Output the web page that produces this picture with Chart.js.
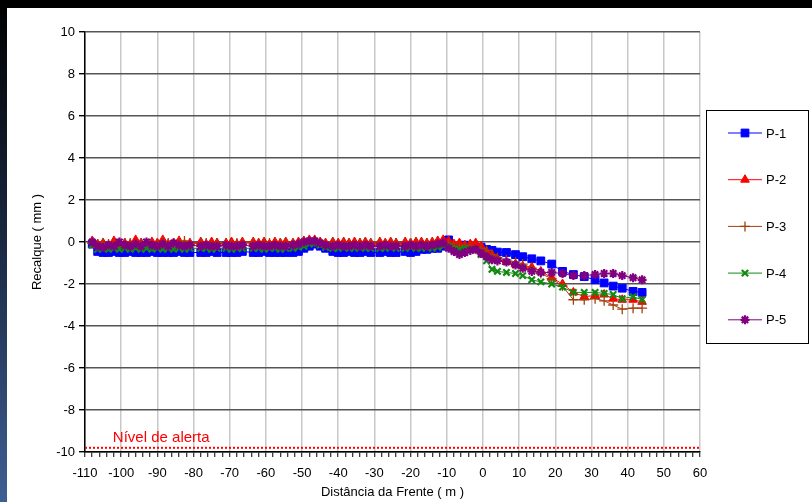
<!DOCTYPE html>
<html>
<head>
<meta charset="utf-8">
<script src="https://cdn.jsdelivr.net/npm/chart.js@4/dist/chart.umd.min.js"></script>
<style>
  html, body { margin: 0; padding: 0; background: #000; }
  canvas { display: block; }
</style>
</head>
<body>
<canvas id="grafico" width="812" height="502"></canvas>
<script>
// ================= DADOS =================
const distancias = [
  -108, -106.5, -105, -103.5, -102, -100.5, -99, -97.5, -96, -94.5, -93, -91.5, -90, -88.5, -87, -85.5, -84, -82.5, -81,
  -78, -76.5, -75, -73.5,
  -71, -69.5, -68, -66.5,
  -63.5, -62, -60.5, -59, -57.5, -56, -54.5,
  -52.5, -51, -49.5, -48, -46.5, -45, -43.5,
  -41.5, -40, -38.5, -37, -35.5, -34, -32.5, -31,
  -28.5, -27, -25.5, -24,
  -21.5, -20, -18.5, -17, -15.5, -14, -12.5, -11, -9.5,
  -8, -6.5, -5, -3.5, -2, -0.5,
  1, 2.5, 4, 6.5, 9, 11, 13.5, 16, 19, 22, 25, 28, 31, 33.5, 36, 38.5, 41.5, 44
];

const p1 = [
  -0.1, -0.45, -0.5, -0.5, -0.45, -0.5, -0.5, -0.45, -0.5, -0.5, -0.5, -0.45, -0.5, -0.5, -0.5, -0.5, -0.45, -0.5, -0.5,
  -0.5, -0.5, -0.45, -0.5,
  -0.5, -0.5, -0.5, -0.45,
  -0.5, -0.5, -0.45, -0.5, -0.5, -0.5, -0.5,
  -0.5, -0.45, -0.3, -0.2, -0.1, -0.2, -0.3,
  -0.45, -0.5, -0.5, -0.45, -0.5, -0.5, -0.45, -0.5,
  -0.5, -0.45, -0.5, -0.5,
  -0.45, -0.5, -0.45, -0.35, -0.35, -0.3, -0.3, -0.2, 0.1,
  -0.3, -0.3, -0.15, -0.25, -0.3, -0.25,
  -0.35, -0.4, -0.48, -0.5, -0.6, -0.7, -0.8, -0.9, -1.05, -1.4, -1.55, -1.65, -1.8, -1.95, -2.1, -2.2, -2.35, -2.4
];
const p2 = [
  0.05, -0.1, -0.05, -0.15, 0.05, -0.1, -0.05, -0.1, 0.1, -0.05, -0.1, 0.0, -0.05, 0.1, -0.1, -0.05, 0.05, -0.1, -0.05,
  0.0, -0.1, 0.0, -0.05,
  -0.05, 0.0, -0.1, 0.0,
  0.0, -0.05, 0.0, -0.1, 0.0, -0.05, 0.0,
  -0.05, 0.0, 0.05, 0.1, 0.1, 0.0, -0.05,
  0.0, -0.05, 0.0, -0.05, 0.0, -0.05, 0.0, -0.05,
  0.0, -0.05, 0.0, -0.05,
  0.0, -0.05, 0.0, 0.0, -0.05, 0.0, 0.05, 0.1, 0.05,
  -0.1, -0.05, -0.15, -0.1, -0.05, -0.2,
  -0.45, -0.6, -0.8, -0.95, -1.05, -1.15, -1.2, -1.4, -1.7, -2.0, -2.4, -2.6, -2.55, -2.5, -2.7, -2.75, -2.75, -2.85
];
const p3 = [
  -0.05, -0.1, -0.05, -0.1, -0.05, -0.1, -0.05, -0.05, -0.1, -0.05, -0.1, -0.05, -0.1, 0.0, -0.05, -0.1, -0.05, 0.05, -0.1,
  -0.05, -0.05, -0.1, -0.05,
  -0.05, -0.1, -0.05, -0.05,
  -0.05, -0.1, -0.05, -0.05, -0.1, -0.05, -0.05,
  -0.1, -0.05, 0.0, 0.05, 0.0, -0.05, -0.1,
  -0.05, -0.1, -0.05, -0.05, -0.1, -0.05, -0.05, -0.1,
  -0.05, -0.1, -0.05, -0.05,
  -0.1, -0.05, -0.05, -0.1, -0.05, -0.05, -0.1, -0.05, -0.1,
  -0.2, -0.25, -0.2, -0.2, -0.25, -0.3,
  -0.4, -0.6, -0.75, -0.85, -0.95, -1.05, -1.25, -1.5, -1.75, -2.1, -2.75, -2.75, -2.7, -2.8, -3.0, -3.2, -3.15, -3.15
];
const p4 = [
  -0.15, -0.35, -0.3, -0.35, -0.3, -0.35, -0.3, -0.35, -0.3, -0.35, -0.3, -0.35, -0.3, -0.35, -0.3, -0.35, -0.3, -0.35, -0.3,
  -0.3, -0.3, -0.35, -0.3,
  -0.3, -0.35, -0.3, -0.3,
  -0.3, -0.3, -0.35, -0.3, -0.3, -0.35, -0.3,
  -0.3, -0.25, -0.2, -0.1, -0.05, -0.15, -0.25,
  -0.3, -0.3, -0.25, -0.3, -0.3, -0.25, -0.3, -0.3,
  -0.3, -0.3, -0.25, -0.3,
  -0.3, -0.25, -0.3, -0.3, -0.25, -0.3, -0.25, -0.2, -0.2,
  -0.3, -0.35, -0.3, -0.35, -0.4, -0.6,
  -0.9, -1.3, -1.4, -1.45, -1.5, -1.6, -1.8, -1.9, -2.0, -2.15, -2.4, -2.4, -2.4, -2.45, -2.5, -2.7, -2.6, -2.75
];
const p5 = [
  0.0, -0.2, -0.25, -0.15, -0.2, 0.0, -0.15, -0.2, -0.1, -0.2, 0.0, -0.15, -0.2, -0.1, -0.2, -0.05, -0.15, -0.2, -0.15,
  -0.2, -0.15, -0.2, -0.2,
  -0.15, -0.2, -0.2, -0.15,
  -0.2, -0.15, -0.2, -0.2, -0.15, -0.2, -0.2,
  -0.15, -0.1, 0.0, 0.05, 0.05, -0.05, -0.15,
  -0.2, -0.15, -0.2, -0.2, -0.15, -0.2, -0.15, -0.2,
  -0.2, -0.15, -0.2, -0.2,
  -0.2, -0.15, -0.2, -0.15, -0.2, -0.15, -0.1, -0.05, -0.3,
  -0.45, -0.6, -0.5, -0.4, -0.35, -0.55,
  -0.7, -0.85, -0.9, -0.95, -1.1, -1.25, -1.4, -1.45, -1.45, -1.5, -1.6, -1.6, -1.55, -1.5, -1.5, -1.6, -1.7, -1.8
];

const nomes = ["P-1", "P-2", "P-3", "P-4", "P-5"];
const valores = [p1, p2, p3, p4, p5];
const nivelAlerta = -9.8;
const limitesX = [-110, 60];

// ================= ESTILOS =================
const estilos = [
  { cor: "#0000ff", ponto: "rect", raio: 5.5, borda: 1 },
  { cor: "#ff0000", ponto: "triangle", raio: 5, borda: 1 },
  { cor: "#a0400c", ponto: "cross", raio: 5, borda: 1.3 },
  { cor: "#108a10", ponto: "crossRot", raio: 4.5, borda: 2.2 },
  { cor: "#800080", ponto: "star", raio: 4.5, borda: 2.2 }
];
const fonte = "'Liberation Sans', Arial, sans-serif";

const datasets = valores.map((serie, i) => ({
  label: nomes[i],
  data: serie.map((v, j) => ({ x: distancias[j], y: v })),
  borderColor: estilos[i].cor,
  backgroundColor: estilos[i].cor,
  pointBorderColor: estilos[i].cor,
  pointBackgroundColor: estilos[i].cor,
  pointStyle: estilos[i].ponto,
  pointRadius: estilos[i].raio,
  pointBorderWidth: estilos[i].borda,
  borderWidth: 1,
  tension: 0,
  order: 10 - i
}));

datasets.push({
  label: "alerta",
  data: limitesX.map(x => ({ x: x, y: nivelAlerta })),
  borderColor: "#ff0000",
  borderWidth: 2,
  borderDash: [2, 2],
  pointRadius: 0,
  order: 20
});

// ================= PLUGINS =================
const fundo = {
  id: "fundo",
  beforeDraw(chart) {
    const ctx = chart.ctx;
    ctx.save();
    ctx.fillStyle = "#000";
    ctx.fillRect(0, 0, chart.width, chart.height);
    const grad = ctx.createLinearGradient(0, 0, 0, chart.height);
    grad.addColorStop(0, "#000000");
    grad.addColorStop(0.5, "#1c2a44");
    grad.addColorStop(1, "#3e5f93");
    ctx.fillStyle = grad;
    ctx.fillRect(0, 0, 8, chart.height);
    ctx.fillStyle = "#fff";
    ctx.fillRect(7, 8, chart.width - 7, chart.height - 8);
    ctx.restore();
  }
};

const extras = {
  id: "extras",
  afterDraw(chart) {
    const ctx = chart.ctx;
    const sx = chart.scales.x, sy = chart.scales.y;
    ctx.save();
    // texto do nivel de alerta
    ctx.fillStyle = "#ff0000";
    ctx.font = "15px " + fonte;
    ctx.textBaseline = "alphabetic";
    ctx.fillText("Nível de alerta", sx.getPixelForValue(-102.3), sy.getPixelForValue(nivelAlerta) - 6);

    // legenda
    const lx = 706, ly = 110, lw = 102, lh = 233;
    ctx.strokeStyle = "#000";
    ctx.lineWidth = 1;
    ctx.strokeRect(lx + 0.5, ly + 0.5, lw, lh);
    ctx.font = "13px " + fonte;
    ctx.textBaseline = "middle";
    nomes.forEach((nome, i) => {
      const y = 133 + i * 46.7;
      const e = estilos[i];
      ctx.strokeStyle = e.cor;
      ctx.lineWidth = 1;
      ctx.beginPath();
      ctx.moveTo(728, y);
      ctx.lineTo(762, y);
      ctx.stroke();
      ctx.fillStyle = e.cor;
      ctx.lineWidth = e.borda;
      Chart.helpers.drawPoint(ctx, { pointStyle: e.ponto, radius: e.raio, borderWidth: e.borda }, 745, y);
      ctx.fillStyle = "#000";
      ctx.fillText(nome, 766, y + 1);
    });
    ctx.restore();
  }
};

// ================= GRAFICO =================
new Chart(document.getElementById("grafico"), {
  type: "line",
  data: { datasets: datasets },
  options: {
    responsive: false,
    animation: false,
    devicePixelRatio: 1,
    layout: { padding: { top: 32, right: 112, left: 0, bottom: 0 } },
    plugins: {
      legend: { display: false },
      tooltip: { enabled: false }
    },
    scales: {
      x: {
        type: "linear",
        min: -110,
        max: 60,
        afterFit(scale) { scale.height = 50; },
        ticks: {
          stepSize: 2,
          autoSkip: false,
          maxRotation: 0,
          padding: 9,
          color: "#000",
          font: { family: fonte, size: 13 },
          callback: v => (Math.round(v) % 10 === 0 ? String(Math.round(v)) : "")
        },
        grid: {
          color: c => (Math.round(c.tick.value) % 10 === 0 ? "#c8c8c8" : "rgba(0,0,0,0)"),
          lineWidth: 1.5,
          tickColor: "#000",
          tickLength: 5,
          tickWidth: 1
        },
        border: { color: "#000", width: 1.5 },
        title: {
          display: true,
          text: "Distância da Frente ( m )",
          color: "#000",
          font: { family: fonte, size: 13 },
          padding: { top: 0, bottom: 2 }
        }
      },
      y: {
        min: -10,
        max: 10,
        afterFit(scale) { scale.width = 85; },
        ticks: {
          stepSize: 2,
          padding: 4,
          color: "#000",
          font: { family: fonte, size: 13 }
        },
        grid: {
          color: "#555",
          lineWidth: 1.4,
          tickColor: "#000",
          tickLength: 6
        },
        border: { color: "#000", width: 1.5 },
        title: {
          display: true,
          text: "Recalque ( mm )",
          color: "#000",
          font: { family: fonte, size: 13 },
          padding: { top: 30, bottom: 0 }
        }
      }
    }
  },
  plugins: [fundo, extras]
});
</script>
</body>
</html>
